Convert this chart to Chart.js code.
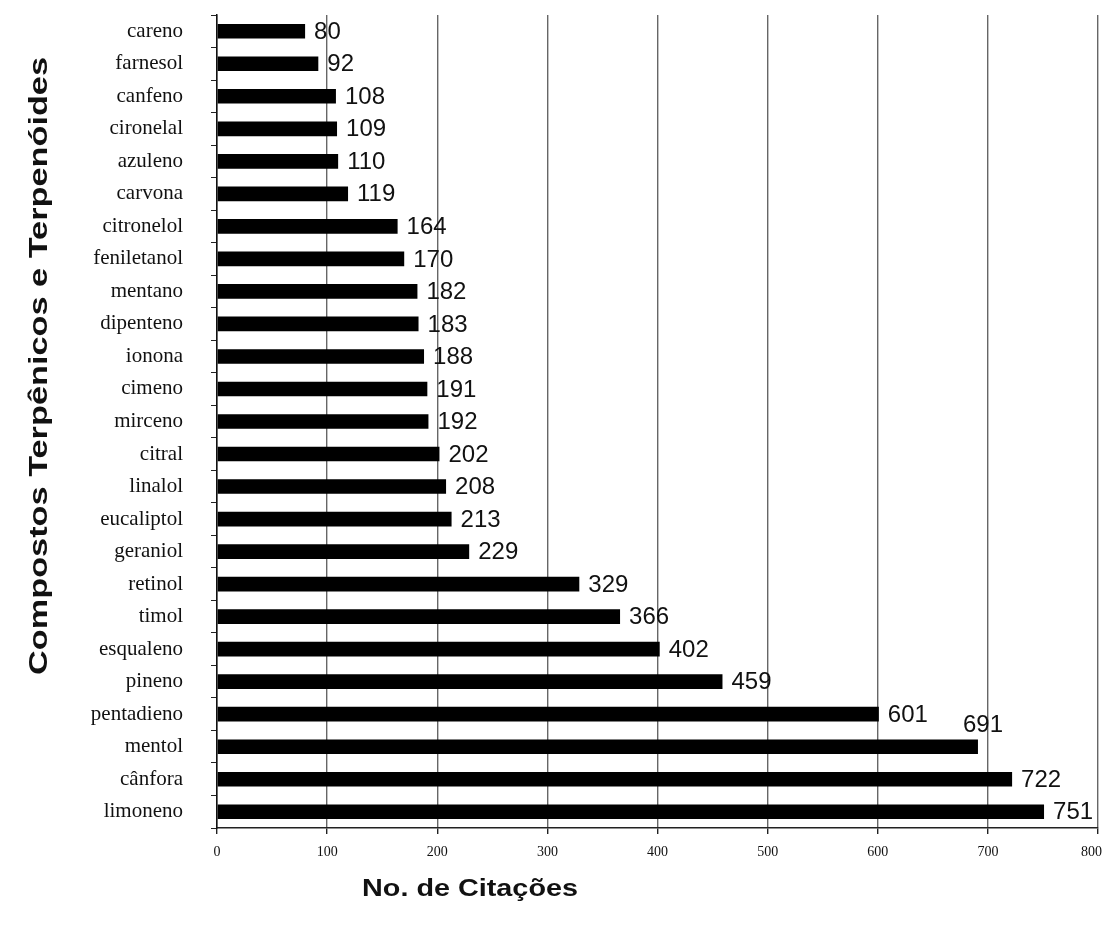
<!DOCTYPE html>
<html>
<head>
<meta charset="utf-8">
<title>Compostos Terpênicos e Terpenóides</title>
<script src="https://cdn.jsdelivr.net/npm/chart.js@4/dist/chart.umd.min.js"></script>
<style>
  html, body { margin: 0; padding: 0; background: #ffffff; }
  #wrap { width: 1105px; height: 931px; }
</style>
</head>
<body>
<div id="wrap"><canvas id="chart" width="1105" height="931"></canvas></div>
<script>
// Compounds and their citation counts
const categories = [
  'careno', 'farnesol', 'canfeno', 'cironelal', 'azuleno', 'carvona',
  'citronelol', 'feniletanol', 'mentano', 'dipenteno', 'ionona', 'cimeno',
  'mirceno', 'citral', 'linalol', 'eucaliptol', 'geraniol', 'retinol',
  'timol', 'esqualeno', 'pineno', 'pentadieno', 'mentol', 'cânfora', 'limoneno'
];
const citations = [
  80, 92, 108, 109, 110, 119, 164, 170, 182, 183, 188, 191, 192,
  202, 208, 213, 229, 329, 366, 402, 459, 601, 691, 722, 751
];
const xTicks = [0, 100, 200, 300, 400, 500, 600, 700, 800];

const yTitle = 'Compostos Terpênicos e Terpenóides';
const xTitle = 'No. de Citações';

// value labels that sit above their bar instead of beside it
const raisedLabels = ['mentol'];

const SANS = "'Liberation Sans', Arial, sans-serif";
const SERIF = "'Liberation Serif', 'Times New Roman', serif";

const valueLabels = {
  id: 'valueLabels',
  afterDatasetsDraw(chart) {
    const ctx = chart.ctx;
    const meta = chart.getDatasetMeta(0);
    ctx.save();
    ctx.font = '24px ' + SANS;
    ctx.fillStyle = '#111';
    ctx.textBaseline = 'middle';
    ctx.textAlign = 'left';
    meta.data.forEach((bar, i) => {
      const v = chart.data.datasets[0].data[i];
      if (raisedLabels.includes(chart.data.labels[i])) {
        ctx.fillText(String(v), bar.x - 15, bar.y - 21);
      } else {
        ctx.fillText(String(v), bar.x + 9, bar.y + 1);
      }
    });
    ctx.restore();
  }
};

// x tick labels, kept inside the canvas at the right edge
const xTickLabels = {
  id: 'xTickLabels',
  afterDraw(chart) {
    const ctx = chart.ctx;
    const sx = chart.scales.x;
    ctx.save();
    ctx.font = '14px ' + SERIF;
    ctx.fillStyle = '#111';
    ctx.textBaseline = 'middle';
    ctx.textAlign = 'center';
    const limit = chart.width - 3;
    xTicks.forEach(v => {
      const text = String(v);
      const w = ctx.measureText(text).width;
      let x = sx.getPixelForValue(v);
      if (x + w / 2 > limit) x = limit - w / 2;
      ctx.fillText(text, x, sx.top + 24);
    });
    ctx.restore();
  }
};

// axis titles, stretched along their length like the printed figure
const axisTitles = {
  id: 'axisTitles',
  afterDraw(chart) {
    const ctx = chart.ctx;
    ctx.save();
    ctx.fillStyle = '#111';
    ctx.textAlign = 'center';
    ctx.textBaseline = 'middle';
    ctx.font = 'bold 26px ' + SANS;
    let w = ctx.measureText(yTitle).width;
    ctx.save();
    ctx.translate(40, 366);
    ctx.rotate(-Math.PI / 2);
    ctx.scale(618 / w, 1);
    ctx.fillText(yTitle, 0, 0);
    ctx.restore();

    ctx.font = 'bold 24px ' + SANS;
    w = ctx.measureText(xTitle).width;
    ctx.save();
    ctx.translate(470, 889);
    ctx.scale(216 / w, 1);
    ctx.fillText(xTitle, 0, 0);
    ctx.restore();
    ctx.restore();
  }
};

new Chart(document.getElementById('chart'), {
  type: 'bar',
  data: {
    labels: categories,
    datasets: [{
      data: citations,
      backgroundColor: '#000000',
      borderWidth: 0,
      barPercentage: 0.45,
      categoryPercentage: 1.0
    }]
  },
  options: {
    indexAxis: 'y',
    responsive: false,
    animation: false,
    layout: { padding: { top: 15, right: 7, left: 0, bottom: 0 } },
    plugins: {
      legend: { display: false },
      tooltip: { enabled: false },
      title: { display: false }
    },
    scales: {
      x: {
        min: 0,
        max: 800,
        afterBuildTicks(scale) {
          scale.ticks = xTicks.map(v => ({ value: v }));
        },
        afterFit(scale) {
          scale.height = 103;
          scale.paddingLeft = 0;
          scale.paddingRight = 0;
        },
        grid: {
          color: '#666666',
          lineWidth: 1.4,
          tickLength: 6,
          tickColor: '#222'
        },
        border: { color: '#222', width: 1.5 },
        ticks: { display: false }
      },
      y: {
        afterFit(scale) {
          scale.width = 217;
          scale.paddingTop = 0;
          scale.paddingBottom = 0;
        },
        grid: {
          drawOnChartArea: false,
          drawTicks: true,
          tickLength: 6,
          tickColor: '#222',
          offset: true
        },
        border: { color: '#111', width: 1.5 },
        ticks: {
          font: { family: SERIF, size: 21 },
          color: '#111',
          padding: 28,
          autoSkip: false
        }
      }
    }
  },
  plugins: [valueLabels, xTickLabels, axisTitles]
});
</script>
</body>
</html>
